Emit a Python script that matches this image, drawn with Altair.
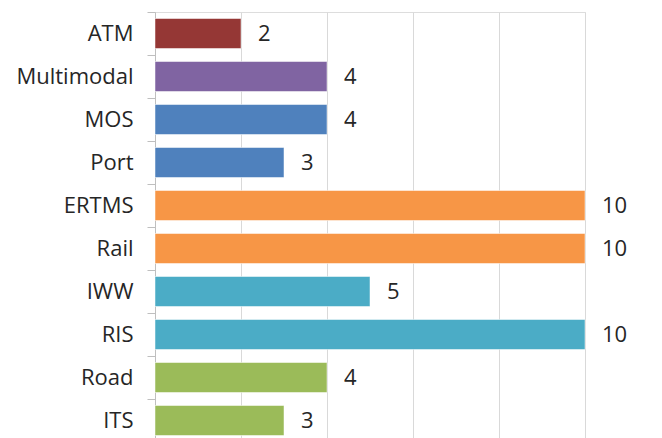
import altair as alt
import pandas as pd

categories = ["ATM", "Multimodal", "MOS", "Port", "ERTMS", "Rail", "IWW", "RIS", "Road", "ITS"]
values = [2, 4, 4, 3, 10, 10, 5, 10, 4, 3]
colors = ["#953735", "#8064A2", "#4F81BD", "#4F81BD", "#F79646", "#F79646",
          "#4BACC6", "#4BACC6", "#9BBB59", "#9BBB59"]

df = pd.DataFrame({"cat": categories, "val": values, "color": colors})

FONT = "Open Sans"
FS = 22
y_enc = alt.Y("cat:N", sort=categories, title=None,
              scale=alt.Scale(paddingInner=0, paddingOuter=0),
              axis=alt.Axis(bandPosition=0, tickSize=8, tickColor="#bfbfbf",
                            domainColor="#bfbfbf", labelFont=FONT, labelFontSize=FS,
                            labelColor="#262626", labelPadding=14, grid=False))
x_enc = alt.X("val:Q", title=None, scale=alt.Scale(domain=[0, 10], nice=False),
              axis=alt.Axis(values=[0, 2, 4, 6, 8, 10], labels=False, ticks=False,
                            domain=False, grid=True, gridColor="#d9d9d9"))

bars = alt.Chart(df).mark_bar(size=30, stroke="white", strokeWidth=0.5).encode(
    x=x_enc, y=y_enc, color=alt.Color("color:N", scale=None))
text = alt.Chart(df).mark_text(align="left", dx=17, font=FONT, fontSize=FS,
                               color="#262626").encode(
    x="val:Q", y=alt.Y("cat:N", sort=categories), text="val:Q")

chart = (bars + text).properties(
    width=430, height=430,
    autosize=alt.AutoSizeParams(type="none"),
    padding={"left": 147, "top": 4, "right": 69, "bottom": 0},
).configure_view(stroke=None).configure(background="white")

chart.save("out.html", embed_options={"renderer": "svg", "actions": False})
